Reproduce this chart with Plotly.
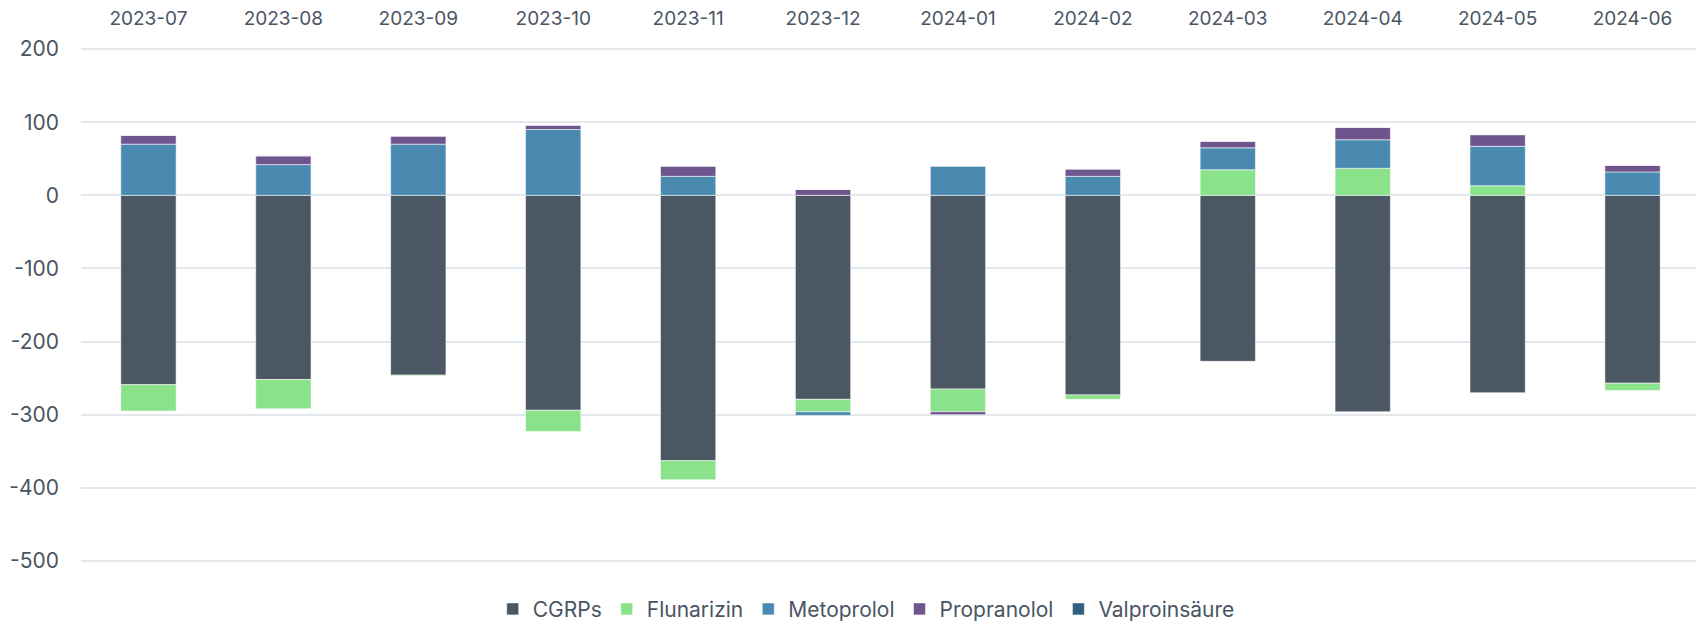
import plotly.graph_objects as go

months = ["2023-07", "2023-08", "2023-09", "2023-10", "2023-11", "2023-12",
          "2024-01", "2024-02", "2024-03", "2024-04", "2024-05", "2024-06"]

cgrps = [-259, -252, -246, -294, -363, -279, -265, -273, -227, -296, -270, -257]
flunarizin = [-36, -40, -1, -29, -26, -17, -31, -6, 35, 37, 13, -10]
metoprolol = [70, 42, 70, 90, 26, -5, 40, 26, 30, 39, 54, 32]
propranolol = [12, 12, 11, 6, 14, 8, -4, 10, 9, 17, 16, 9]
valproinsaeure = [0, 0, 0, 0, 0, 0, 0, 0, 0, 0, 0, 0]

y_tickvals = [200, 100, 0, -100, -200, -300, -400, -500]
y_ticktext = ["200", "100", "0", "-100", "-200", "-300", "-400", "-500"]

series = [
    ("CGRPs", cgrps, "#4b5864"),
    ("Flunarizin", flunarizin, "#8ae28a"),
    ("Metoprolol", metoprolol, "#4a8ab0"),
    ("Propranolol", propranolol, "#6f558e"),
    ("Valproinsäure", valproinsaeure, "#2f607f"),
]

fig = go.Figure()
for name, vals, color in series:
    fig.add_trace(go.Bar(
        name=name, x=months, y=vals,
        marker=dict(color=color, line=dict(color="rgba(255,255,255,0.55)", width=1)),
    ))

font_color = "#4a5563"
fig.update_layout(
    barmode="relative",
    bargap=0.59,
    width=1696, height=618,
    margin=dict(l=73, r=4, t=40, b=64, autoexpand=False),
    plot_bgcolor="white",
    paper_bgcolor="white",
    font=dict(family="Inter, Liberation Sans, sans-serif", size=20, color=font_color),
    showlegend=True,
    legend=dict(orientation="h", x=0.485, xanchor="center", y=-0.052, yanchor="top",
                font=dict(size=21, color=font_color), itemwidth=30,
                traceorder="normal"),
    xaxis=dict(type="category", side="top", showgrid=False, showline=False, ticks="",
               automargin=False, ticklabelstandoff=18,
               tickfont=dict(size=19, color=font_color)),
    yaxis=dict(range=[-501.5, 201.5], tickvals=y_tickvals, ticktext=y_ticktext,
               showgrid=True, gridcolor="#e4e7eb",
               gridwidth=2, zeroline=True, zerolinecolor="#e4e7eb", zerolinewidth=2,
               showline=False, ticks="", ticklabelstandoff=21, automargin=False,
               tickfont=dict(size=21, color=font_color)),
)

fig.write_html("out.html")
